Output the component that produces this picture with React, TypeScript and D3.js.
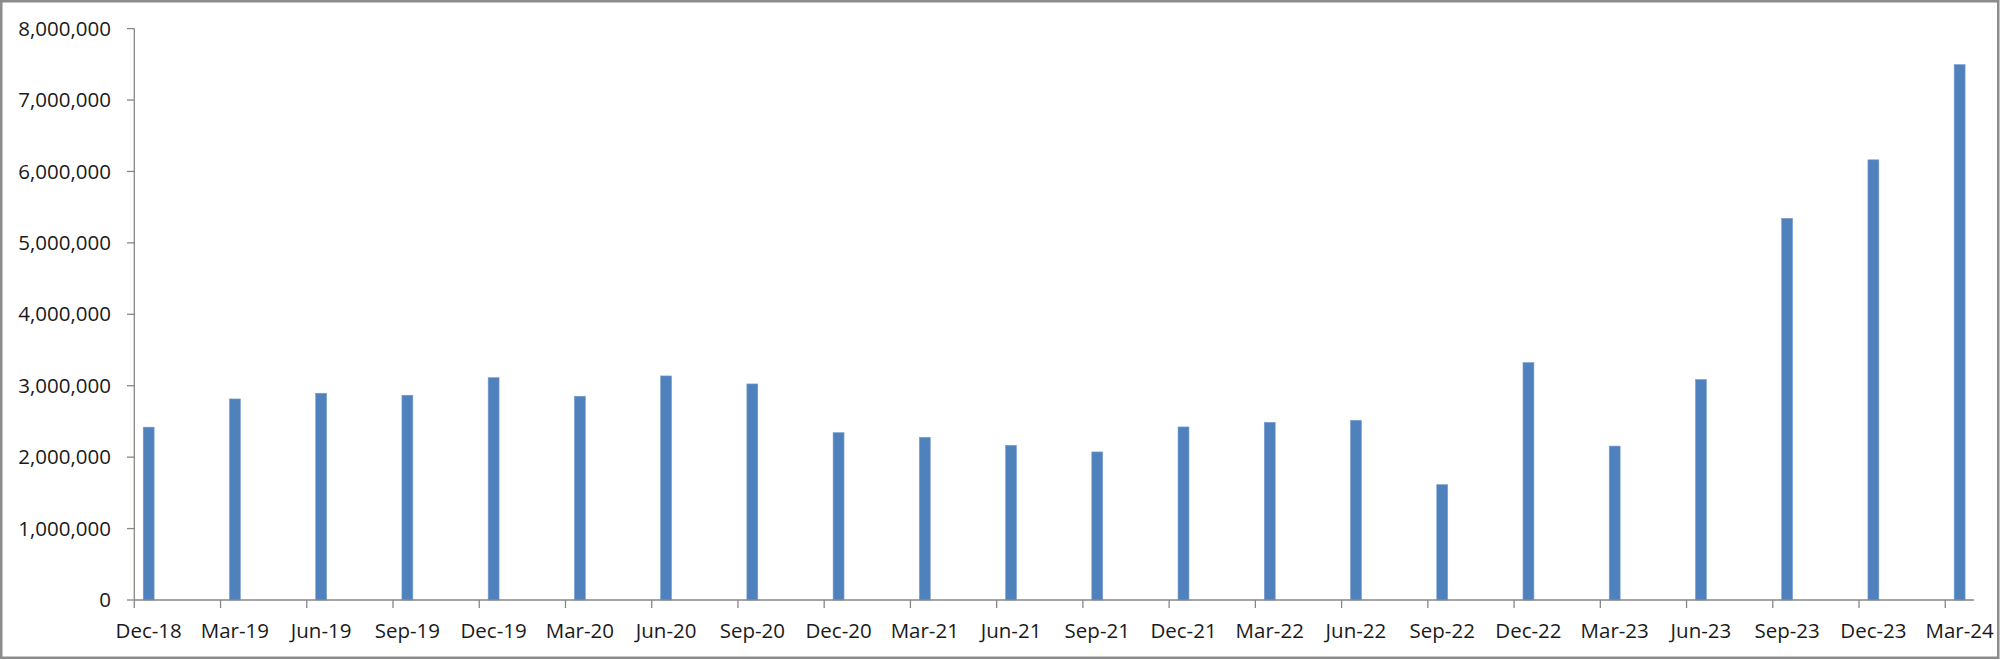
import React from "react";
import * as d3 from "d3";

const quarterLabels: string[] = [
  "Dec-18", "Mar-19", "Jun-19", "Sep-19", "Dec-19", "Mar-20", "Jun-20", "Sep-20",
  "Dec-20", "Mar-21", "Jun-21", "Sep-21", "Dec-21", "Mar-22", "Jun-22", "Sep-22",
  "Dec-22", "Mar-23", "Jun-23", "Sep-23", "Dec-23", "Mar-24",
];

const values: number[] = [
  2420000, 2815000, 2895000, 2867000, 3113000, 2853000, 3137000, 3025000,
  2343000, 2278000, 2166000, 2073000, 2423000, 2488000, 2516000, 1615000,
  3324000, 2155000, 3087000, 5344000, 6163000, 7496000,
];

const yTicks: number[] = [0, 1000000, 2000000, 3000000, 4000000, 5000000, 6000000, 7000000, 8000000];

const W = 2000;
const H = 660;
const FONT = "'Open Sans', 'Noto Sans', sans-serif";

export default function App() {
  const parse = d3.timeParse("%b-%y");
  const dates = quarterLabels.map((l) => parse(l) as Date);
  const start = dates[0];
  const end = d3.timeMonth.offset(dates[dates.length - 1], 1);
  const months = d3.timeMonth.range(start, end).map((d) => +d);

  const x = d3
    .scaleBand<number>()
    .domain(months)
    .range([134.3, 1974])
    .paddingInner(0.62)
    .paddingOuter(0.31);
  const step = x.step();
  const bw = x.bandwidth();

  const y = d3.scaleLinear().domain([0, 8000000]).range([600, 28.6]);
  const fmt = d3.format(",");

  const axisColor = "#868686";
  const barX = (d: Date) => x(+d) as number;
  const bandStart = (d: Date) => (x(+d) as number) - step * 0.31;

  return (
    <svg
      width={W}
      height={H}
      style={{ position: "absolute", left: 0, top: 0, display: "block", background: "#fff" }}
    >
      <rect x={0} y={0} width={W} height={H} fill="#fff" />
      <rect x={1.25} y={1.25} width={W - 3} height={H - 3.5} fill="none" stroke="#8c8c8c" strokeWidth={2.5} />

      {/* bars */}
      {values.map((v, i) => (
        <rect
          key={quarterLabels[i]}
          x={barX(dates[i])}
          y={y(v)}
          width={bw}
          height={y(0) - y(v)}
          fill="#4F81BD"
          stroke="#7a9fd0"
          strokeWidth={0.6}
        />
      ))}

      {/* y axis */}
      <line x1={134.3} x2={134.3} y1={y(8000000)} y2={y(0)} stroke={axisColor} strokeWidth={1.3} />
      {yTicks.map((t) => (
        <g key={t}>
          <line x1={127} x2={134.3} y1={y(t)} y2={y(t)} stroke={axisColor} strokeWidth={1.3} />
          <text
            x={111}
            y={y(t)}
            dy="0.35em"
            textAnchor="end"
            fontFamily={FONT}
            fontSize={20.5}
            fill="#1a1a1a"
          >
            {fmt(t)}
          </text>
        </g>
      ))}

      {/* x axis */}
      <line x1={134.3} x2={1974} y1={y(0)} y2={y(0)} stroke={axisColor} strokeWidth={1.3} />
      {dates.map((d, i) => (
        <g key={quarterLabels[i]}>
          <line
            x1={bandStart(d)}
            x2={bandStart(d)}
            y1={y(0)}
            y2={y(0) + 8}
            stroke={axisColor}
            strokeWidth={1.3}
          />
          <text
            x={barX(d) + bw / 2}
            y={637.5}
            textAnchor="middle"
            fontFamily={FONT}
            fontSize={20.5}
            fill="#1a1a1a"
          >
            {quarterLabels[i]}
          </text>
        </g>
      ))}
    </svg>
  );
}
